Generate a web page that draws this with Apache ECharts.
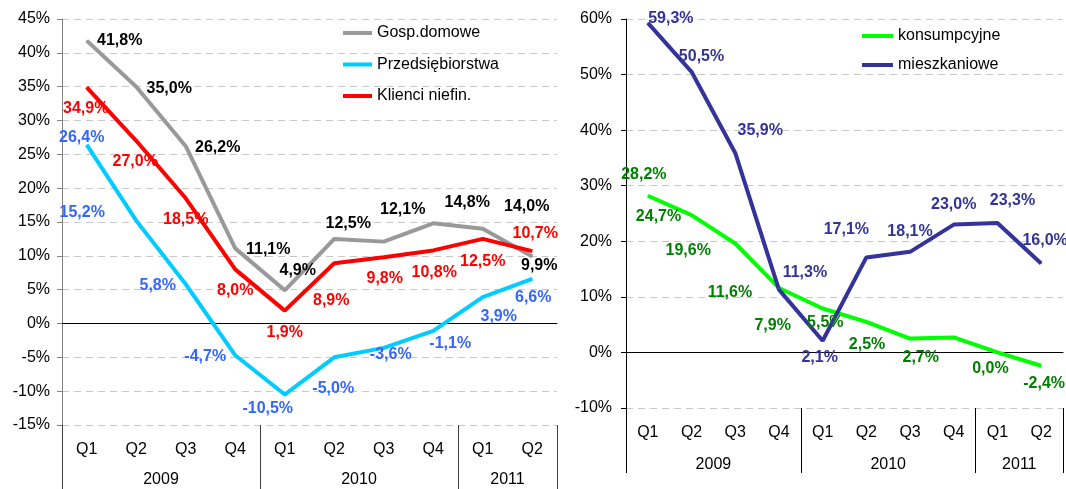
<!DOCTYPE html>
<html>
<head>
<meta charset="utf-8">
<script src="https://cdn.jsdelivr.net/npm/echarts@6/dist/echarts.min.js"></script>
<style>
  html, body { margin: 0; padding: 0; background: #fff; }
  #chart { width: 1066px; height: 489px; }
</style>
</head>
<body>
<div id="chart"></div>
<script>
// kategorie
var quarters = ['Q1', 'Q2', 'Q3', 'Q4', 'Q1', 'Q2', 'Q3', 'Q4', 'Q1', 'Q2']
var years = ['2009', '2010', '2011']
var yearSpans = [4, 4, 2]

// lewy wykres
var gosp = [41.8, 35.0, 26.2, 11.1, 4.9, 12.5, 12.1, 14.8, 14.0, 9.9]
var przeds = [26.4, 15.2, 5.8, -4.7, -10.5, -5.0, -3.6, -1.1, 3.9, 6.6]
var klienci = [34.9, 27.0, 18.5, 8.0, 1.9, 8.9, 9.8, 10.8, 12.5, 10.7]

// prawy wykres
var konsump = [28.2, 24.7, 19.6, 11.6, 7.9, 5.5, 2.5, 2.7, 0.0, -2.4]
var mieszk = [59.3, 50.5, 35.9, 11.3, 2.1, 17.1, 18.1, 23.0, 23.3, 16.0]

// przesunięcia etykiet (px)
var gospOff = [[33, 0], [33, 2], [32, 1], [33, 1], [13, -20], [14, -15], [19, -32], [34, -21], [44, -22], [7, 9]]
var przedsOff = [[-5, -7], [-54, -8], [-28, 1], [-30, 1], [-17, 14], [-1, 31], [7, 7], [17, 13], [16, 19], [1, 19]]
var klienciOff = [[-1, 21], [-1, 21], [0, 21], [0, 21], [0, 22], [-3, 37], [1, 21], [1, 22], [0, 23], [3, -18]]
var konsumpOff = [[-4, -21], [-33, 1], [-47, 7], [-49, 5], [-50, 17], [-41, 1], [-43, 6], [-33, 20], [-7, 16], [3, 18]]
var mieszkOff = [[23, -4], [10, -15], [25, -22], [26, -17], [-3, 17], [-20, -28], [0, -20], [0, -20], [15, -22], [4, -23]]

var font = 'Liberation Sans, Arial, sans-serif'

// granice i środki lat na osi 0..10
var yearBounds = [0]
var yearCenters = []
yearSpans.forEach(function (s) {
  var start = yearBounds[yearBounds.length - 1]
  yearCenters.push(start + s / 2)
  yearBounds.push(start + s)
})

function pct(v) {
  return v.toFixed(1).replace('.', ',') + '%'
}

function makeData(values, offsets) {
  return values.map(function (v, i) {
    return { value: v, label: { offset: offsets[i] } }
  })
}

function makeSeries(name, values, offsets, lineColor, labelColor, g) {
  return {
    name: name,
    type: 'line',
    xAxisIndex: g * 3,
    yAxisIndex: g,
    data: makeData(values, offsets),
    symbol: 'circle',
    symbolSize: 1,
    lineStyle: { color: lineColor, width: 4 },
    itemStyle: { color: lineColor },
    label: {
      show: true,
      position: 'inside',
      align: 'center',
      verticalAlign: 'middle',
      color: labelColor,
      fontFamily: font,
      fontWeight: 'bold',
      fontSize: 16,
      formatter: function (p) { return pct(p.value) }
    },
    emphasis: { disabled: true },
    animation: false
  }
}

function makeXAxes(g, sepColor, yearColor, qLen, yearLen, yearMargin) {
  return [
    {
      gridIndex: g,
      type: 'category',
      data: quarters,
      axisLine: { onZero: true, lineStyle: { color: '#000', width: 1 } },
      axisTick: { length: 5, lineStyle: { color: sepColor } },
      axisLabel: { show: false }
    },
    {
      gridIndex: g,
      type: 'category',
      data: quarters,
      position: 'bottom',
      axisLine: { show: false, onZero: false },
      axisTick: { length: qLen, lineStyle: { color: sepColor } },
      axisLabel: { margin: 17, color: '#000', fontFamily: font, fontSize: 16 }
    },
    {
      gridIndex: g,
      type: 'value',
      min: 0,
      max: 10,
      position: 'bottom',
      axisLine: { show: false, onZero: false },
      splitLine: { show: false },
      axisTick: { show: true, length: yearLen, customValues: yearBounds, lineStyle: { color: yearColor } },
      axisLabel: {
        margin: yearMargin,
        customValues: yearCenters,
        color: '#000',
        fontFamily: font,
        fontSize: 16,
        formatter: function (v) { return years[yearCenters.indexOf(v)] }
      }
    }
  ]
}

function makeYAxis(g, min, max, step, axisColor, margin) {
  return {
    gridIndex: g,
    type: 'value',
    min: min,
    max: max,
    interval: step,
    axisLine: { show: true, lineStyle: { color: axisColor } },
    axisTick: { show: true, length: 5, lineStyle: { color: axisColor } },
    axisLabel: {
      margin: margin,
      color: '#000',
      fontFamily: font,
      fontSize: 16,
      formatter: function (v) { return v + '%' }
    },
    splitLine: { lineStyle: { color: '#c8c8c8', type: [7, 5], width: 1 } }
  }
}

var myChart = echarts.init(document.getElementById('chart'))

var option = {
  backgroundColor: '#fff',
  animation: false,
  grid: [
    { left: 62, right: 509, top: 19, bottom: 64 },
    { left: 626, right: 3, top: 19, bottom: 81 }
  ],
  legend: [
    {
      data: ['Gosp.domowe', 'Przedsiębiorstwa', 'Klienci niefin.'],
      orient: 'vertical',
      left: 338,
      top: 20,
      icon: 'rect',
      itemWidth: 29,
      itemHeight: 4,
      itemGap: 15.5,
      textStyle: { color: '#000', fontFamily: font, fontSize: 16 }
    },
    {
      data: ['konsumpcyjne', 'mieszkaniowe'],
      orient: 'vertical',
      left: 857,
      top: 23,
      icon: 'rect',
      itemWidth: 31,
      itemHeight: 4,
      itemGap: 13,
      textStyle: { color: '#000', fontFamily: font, fontSize: 16 }
    }
  ],
  xAxis: makeXAxes(0, '#808080', '#404040', 34, 64, 47).concat(makeXAxes(1, '#808080', '#000', 34, 65, 49)),
  yAxis: [
    makeYAxis(0, -15, 45, 5, '#808080', 12),
    makeYAxis(1, -10, 60, 10, '#000', 14)
  ],
  series: [
    makeSeries('Gosp.domowe', gosp, gospOff, '#999999', '#000000', 0),
    makeSeries('Przedsiębiorstwa', przeds, przedsOff, '#00ccff', '#3366ff', 0),
    makeSeries('Klienci niefin.', klienci, klienciOff, '#ff0000', '#ff0000', 0),
    makeSeries('konsumpcyjne', konsump, konsumpOff, '#00ff00', '#008000', 1),
    makeSeries('mieszkaniowe', mieszk, mieszkOff, '#333399', '#333399', 1)
  ]
}

myChart.setOption(option)
window.addEventListener('resize', function () {
  myChart.resize()
})
</script>
</body>
</html>
